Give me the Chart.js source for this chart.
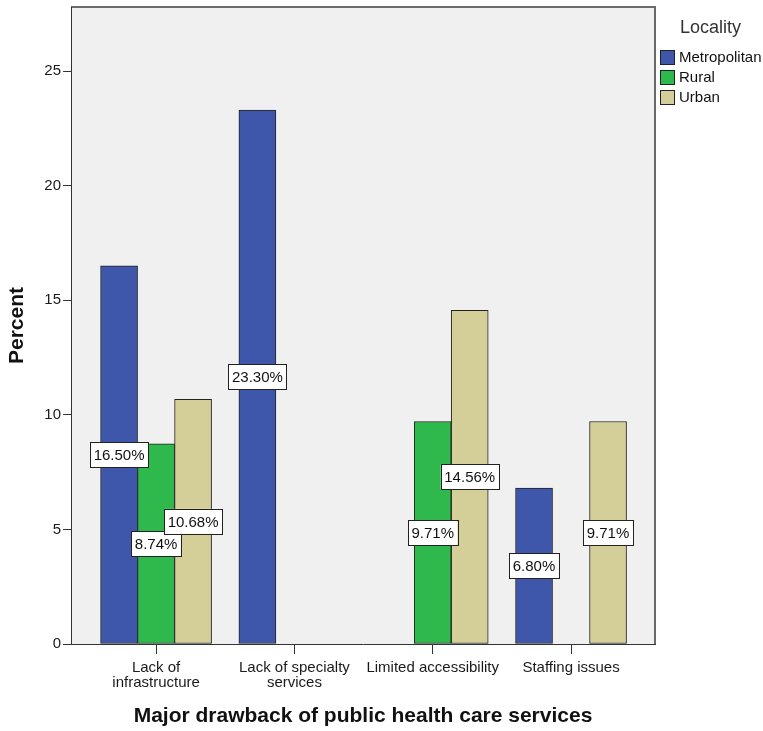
<!DOCTYPE html>
<html>
<head>
<meta charset="utf-8">
<script src="https://cdn.jsdelivr.net/npm/chart.js@4.4.1/dist/chart.umd.min.js"></script>
<style>
  html, body { margin: 0; padding: 0; background: #fff; }
  #wrap { width: 763px; height: 731px; position: relative; }
</style>
</head>
<body>
<div id="wrap"><canvas id="chart"></canvas></div>
<script>
const categories = [["Lack of", "infrastructure"], ["Lack of specialty", "services"], "Limited accessibility", "Staffing issues"];
const localities = ["Metropolitan", "Rural", "Urban"];
const metropolitan = [16.50, 23.30, null, 6.80];
const rural = [8.74, null, 9.71, null];
const urban = [10.68, null, 14.56, 9.71];
const yTicks = [0, 5, 10, 15, 20, 25];
const colors = ["#3e57ab", "#2fb84b", "#d4cf99"];

const FONT = "'Liberation Sans', Arial, sans-serif";

function toPoints(arr) { return arr.map((v, i) => ({ x: i, y: v })); }

// grey plot panel with a thin frame
const panel = {
  id: "panel",
  beforeDraw(chart) {
    const { ctx, chartArea: a } = chart;
    ctx.save();
    ctx.fillStyle = "#f0f0f0";
    ctx.fillRect(a.left, a.top, a.right - a.left, a.bottom - a.top);
    ctx.strokeStyle = "#6a6a6a";
    ctx.lineWidth = 2;
    ctx.beginPath();
    ctx.moveTo(a.left, a.top);
    ctx.lineTo(a.right, a.top);
    ctx.lineTo(a.right, a.bottom);
    ctx.stroke();
    ctx.restore();
  }
};

// percentage boxes at half the bar height
const barLabels = {
  id: "barLabels",
  afterDatasetsDraw(chart) {
    const { ctx } = chart;
    ctx.save();
    ctx.font = "15px " + FONT;
    ctx.textAlign = "center";
    ctx.textBaseline = "middle";
    chart.data.datasets.forEach((ds, di) => {
      const meta = chart.getDatasetMeta(di);
      meta.data.forEach((bar, i) => {
        const v = ds.data[i].y;
        if (v == null) return;
        const txt = v.toFixed(2) + "%";
        const w = ctx.measureText(txt).width + 7;
        const h = 25;
        const cx = bar.x, cy = (bar.y + bar.base) / 2;
        ctx.fillStyle = "#fff";
        ctx.fillRect(cx - w / 2, cy - h / 2, w, h);
        ctx.strokeStyle = "#222";
        ctx.lineWidth = 1;
        ctx.strokeRect(Math.round(cx - w / 2) + 0.5, Math.round(cy - h / 2) + 0.5, Math.round(w), h);
        ctx.fillStyle = "#111";
        ctx.fillText(txt, cx, cy + 1);
      });
    });
    ctx.restore();
  }
};

// legend on the right with its "Locality" heading
const sideLegend = {
  id: "sideLegend",
  afterDraw(chart) {
    const { ctx } = chart;
    const x = chart.chartArea.right + 5;
    ctx.save();
    ctx.textBaseline = "middle";
    ctx.textAlign = "left";
    ctx.fillStyle = "#333";
    ctx.font = "18px " + FONT;
    ctx.fillText("Locality", x + 20, 28);
    ctx.font = "15px " + FONT;
    chart.data.datasets.forEach((ds, i) => {
      const cy = 57 + i * 20;
      ctx.fillStyle = ds.backgroundColor;
      ctx.fillRect(x, cy - 7, 14, 14);
      ctx.strokeStyle = "#222";
      ctx.lineWidth = 1;
      ctx.strokeRect(x + 0.5, cy - 6.5, 14, 14);
      ctx.fillStyle = "#111";
      ctx.fillText(ds.label, x + 19, cy + 1);
    });
    ctx.restore();
  }
};

new Chart(document.getElementById("chart"), {
  type: "bar",
  data: {
    datasets: [metropolitan, rural, urban].map((vals, i) => ({
      label: localities[i],
      data: toPoints(vals),
      backgroundColor: colors[i],
      borderColor: "#222",
      borderWidth: 1,
      borderSkipped: false,
      barThickness: 37,
    })),
  },
  options: {
    responsive: true,
    maintainAspectRatio: false,
    animation: false,
    layout: { padding: { left: 0, top: 7, right: 108, bottom: 0 } },
    plugins: { legend: { display: false }, tooltip: { enabled: false } },
    scales: {
      x: {
        type: "linear",
        offset: false,
        min: -0.615,
        max: 3.607,
        afterBuildTicks: s => { s.ticks = categories.map((c, i) => ({ value: i })); },
        afterFit: s => { s.height = 87; s.paddingLeft = 0; s.paddingRight = 0; },
        grid: { offset: false, drawOnChartArea: false, drawTicks: true, tickLength: 10, color: "#333" },
        border: { color: "#333", width: 1 },
        ticks: {
          padding: 6,
          color: "#1a1a1a",
          maxRotation: 0,
          autoSkip: false,
          font: { family: FONT, size: 15, lineHeight: 1.0 },
          callback: v => categories[v] ?? "",
        },
        title: {
          display: true,
          text: "Major drawback of public health care services",
          color: "#111",
          font: { family: FONT, size: 21, weight: "bold" },
          padding: { top: 0, bottom: 2 },
        },
      },
      y: {
        min: 0,
        max: 27.8,
        afterBuildTicks: s => { s.ticks = yTicks.map(v => ({ value: v })); },
        afterFit: s => { s.width = 71; s.paddingTop = 0; s.paddingBottom = 0; },
        grid: { drawOnChartArea: false, drawTicks: true, tickLength: 8, color: "#333" },
        border: { color: "#333", width: 1 },
        ticks: { padding: 2, color: "#1a1a1a", font: { family: FONT, size: 15 } },
        title: {
          display: true,
          text: "Percent",
          color: "#111",
          font: { family: FONT, size: 21, weight: "bold" },
          padding: { top: 5, bottom: 0 },
        },
      },
    },
  },
  plugins: [panel, barLabels, sideLegend],
});
</script>
</body>
</html>
